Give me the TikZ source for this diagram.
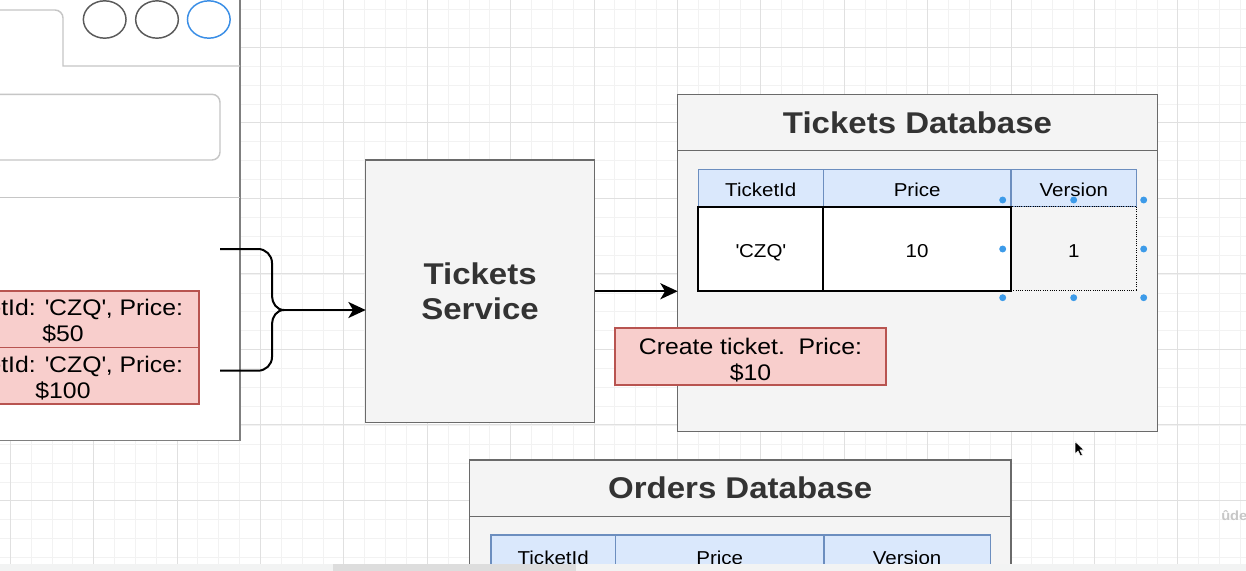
\documentclass[tikz,border=0pt]{standalone}
\usepackage{fontspec}
\setmainfont{Liberation Sans}[FakeStretch=1.1]
\usetikzlibrary{fit,arrows.meta}
\definecolor{gridmin}{HTML}{F2F2F2}
\definecolor{gridmaj}{HTML}{E0E0E0}
\definecolor{boxfill}{HTML}{F4F4F4}
\definecolor{boxline}{HTML}{6A6A6A}
\definecolor{redfill}{HTML}{F8CECC}
\definecolor{redline}{HTML}{B85450}
\definecolor{bluefill}{HTML}{DAE8FC}
\definecolor{blueline}{HTML}{6C8EBF}
\definecolor{titletext}{HTML}{333333}
\definecolor{winline}{HTML}{7F7F7F}
\definecolor{winlight}{HTML}{C6C6C6}
\definecolor{selblue}{HTML}{3D9BE9}
\definecolor{circblue}{HTML}{3A8EE6}
\definecolor{circgray}{HTML}{5A5A5A}
\definecolor{botbar}{HTML}{F2F3F3}
\definecolor{thumbc}{HTML}{DDDDDD}
\newcommand{\sq}{\textquotesingle}
\begin{document}
\begin{tikzpicture}[x=0.75pt,y=-0.75pt,
  fitbox/.style={inner sep=0pt, outer sep=0pt},
  svcbox/.style={fitbox, draw=boxline, fill=boxfill, line width=1.1pt},
  redbox/.style={fitbox, draw=redline, fill=redfill, line width=1.1pt},
  redtxt/.style={inner sep=0pt, align=center, font=\fontsize{16.9}{19.5}\selectfont},
  hdrcell/.style={fitbox, draw=blueline, fill=bluefill, line width=1pt},
  datacell/.style={fitbox, draw=black, fill=white, line width=1.5pt},
  selcell/.style={fitbox, draw=black, densely dotted, line width=0.7pt},
  celltxt/.style={inner sep=0pt, text height=0.72em, text depth=0pt, font=\fontsize{14}{16}\selectfont},
  titletxt/.style={inner sep=0pt, align=center, text=titletext, font=\fontsize{22.5}{26.25}\selectfont\bfseries},
  conn/.style={line width=1.5pt, black},
  arr/.style={conn, -{Stealth[length=13pt,width=12pt,inset=3.5pt]}},
  seldot/.style={fill=selblue},
  gmin/.style={draw=gridmin, line width=0.75pt},
  gmaj/.style={draw=gridmaj, line width=0.75pt}]
\useasboundingbox (0,0) rectangle (1246,571);
\clip (0,0) rectangle (1246,571);
\fill[white] (0,0) rectangle (1246,571);
% grid
\foreach \i in {-12,...,47} {\pgfmathsetmacro\gx{260.5+20.85*\i}\draw[gmin] (\gx,0) -- (\gx,571);}
\foreach \j in {0,...,30} {\pgfmathsetmacro\gy{9.5+18.9*\j}\draw[gmin] (0,\gy) -- (1246,\gy);}
\foreach \i in {-3,...,11} {\pgfmathsetmacro\gx{260.5+83.4*\i}\draw[gmaj] (\gx,0) -- (\gx,571);}
\foreach \j in {-1,...,7} {\pgfmathsetmacro\gy{47.2+75.5*\j}\draw[gmaj] (0,\gy) -- (1246,\gy);}
% browser window
\node[fitbox, draw=winline, fill=white, line width=1.1pt, fit={(-20,-20) (240,440.7)}] (win) {};
\draw[winlight, line width=1.1pt] (-20,10) -- (55,10) to[out=0,in=90] (63,18) -- (63,66) -- (240,66);
\draw[winlight, line width=1.1pt, rounded corners=6pt] (-20,94.3) rectangle (220,160);
\draw[winlight, line width=1.1pt] (-20,197.3) -- (240,197.3);
\draw[circgray, line width=1.1pt, fill=white] (104.7,19.5) ellipse [x radius=16pt, y radius=14pt];
\draw[circgray, line width=1.1pt, fill=white] (157,19.5) ellipse [x radius=16pt, y radius=14pt];
\draw[circblue, line width=1.1pt, fill=white] (208.8,19.5) ellipse [x radius=16pt, y radius=14pt];
% red event boxes
\node[redbox, fit={(-73,291) (199,347.7)}] (ev1) {};
\node[redtxt] (ev1t) at ([yshift=-1.5pt]ev1.center) {TicketId: \sq CZQ\sq, Price:\\\$50};
\node[redbox, fit={(-73,347.7) (199,404)}] (ev2) {};
\node[redtxt] (ev2t) at ([yshift=-1.5pt]ev2.center) {TicketId: \sq CZQ\sq, Price:\\\$100};
% tickets service
\node[svcbox, fit={(365.7,160) (594.5,422.5)}] (svc) {};
\node[titletxt] (svct) at (svc.center) {Tickets\\Service};
% brace connector
\coordinate (b1) at (220,249);
\coordinate (b2) at (220,370.7);
\coordinate (jn) at (284,310);
\draw[conn] (b1) -- (258,249) to[out=0,in=90] (272,263) -- (272,296) to[out=-90,in=180] (jn);
\draw[conn] (b2) -- (258,370.7) to[out=0,in=-90] (272,357) -- (272,324) to[out=90,in=180] (jn);
\draw[arr] (jn) -- (jn -| svc.west);
% tickets database
\node[svcbox, fit={(677.7,94.7) (1157.3,431.7)}] (tdb) {};
\draw[boxline, line width=1.1pt] (677.7,150.7) -- (1157.3,150.7);
\node[titletxt] (tdbt) at (917.5,122.7) {Tickets Database};
\draw[arr] (svc.east) -- (svc.east -| tdb.west);
% table
\node[hdrcell, fit={(698.3,169.3) (823.3,206.7)}] (h1) {};
\node[hdrcell, fit={(823.3,169.3) (1011,206.7)}] (h2) {};
\node[hdrcell, fit={(1011,169.3) (1136.7,206.7)}] (h3) {};
\node[celltxt] at ([yshift=-3pt]h1.center) {TicketId};
\node[celltxt] at ([yshift=-3pt]h2.center) {Price};
\node[celltxt] at ([yshift=-3pt]h3.center) {Version};
\node[datacell, fit={(698.3,206.7) (823.3,290.7)}] (d1) {};
\node[datacell, fit={(823.3,206.7) (1011,290.7)}] (d2) {};
\node[selcell, fit={(1011,206.7) (1136.7,290.7)}] (d3) {};
\draw[black, line width=1.5pt] (1011,206.7) -- (1011,290.7);
\node[celltxt] at ([yshift=-3.2pt]d1.center) {\sq CZQ\sq};
\node[celltxt] at ([yshift=-3.2pt]d2.center) {10};
\node[celltxt] at ([yshift=-3.2pt]d3.center) {1};
% selection handles
\foreach \p in {(1002.7,200),(1073.7,200),(1143.7,200),(1002.7,249),(1143.7,249),(1002.7,297.7),(1073.7,297.7),(1143.7,297.7)}
  {\fill[seldot] \p circle[radius=2.6pt];}
% create ticket event
\node[redbox, fit={(615,328) (886,385)}] (ct) {};
\node[redtxt] (ctt) at ([yshift=-2.5pt]ct.center) {Create ticket.\ \ Price:\\\$10};
% orders database
\node[svcbox, fit={(469.5,460) (1011,640)}] (odb) {};
\draw[boxline, line width=1.1pt] (469.5,516.3) -- (1011,516.3);
\node[titletxt] (odbt) at (740.2,488.2) {Orders Database};
\node[hdrcell, fit={(491,535) (615.4,580)}] (oh1) {};
\node[hdrcell, fit={(615.4,535) (824,580)}] (oh2) {};
\node[hdrcell, fit={(824,535) (990.3,580)}] (oh3) {};
\node[celltxt] at (553.2,559.5) {TicketId};
\node[celltxt] at (719.7,559.5) {Price};
\node[celltxt] at (907.1,559.5) {Version};
% bottom bar
\fill[botbar] (0,563.5) rectangle (1246,571);
\fill[thumbc] (333,564) rectangle (576,571);
% cursor
\filldraw[fill=black, draw=white, line width=0.4pt] (1075,441.5) -- (1075,454) -- (1078,451) -- (1080.5,456) -- (1082.5,455) -- (1080,450) -- (1084,450) -- cycle;
% watermark
\node[anchor=west, inner sep=0pt, text=black!22, font=\fontsize{10}{12}\selectfont\bfseries] (wm) at (1221,516) {ûde};
\end{tikzpicture}
\end{document}
